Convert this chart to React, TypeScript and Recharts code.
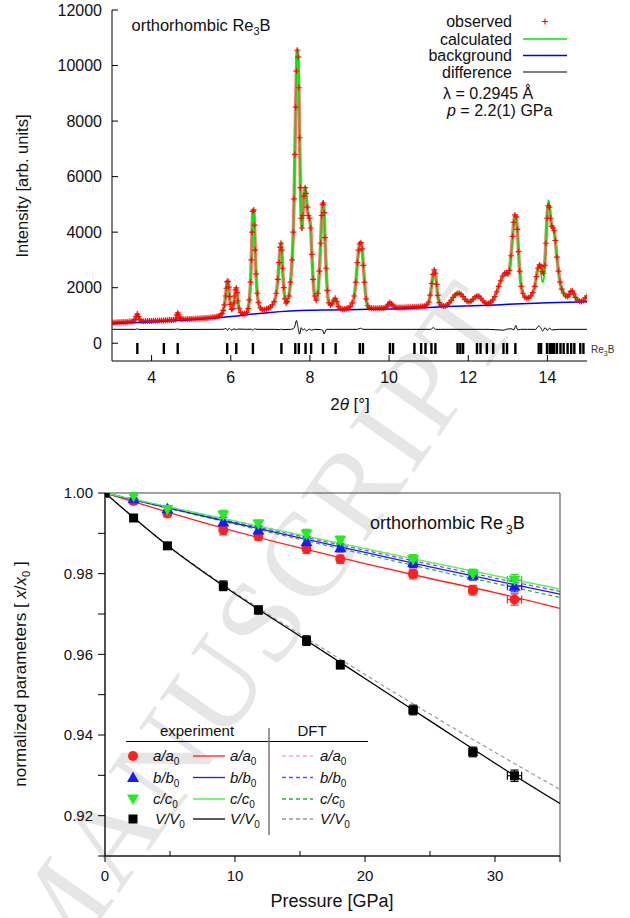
import React from 'react';
import { ComposedChart, Line, Scatter, XAxis, YAxis, ErrorBar, ReferenceArea, Legend } from 'recharts';

// top panel: powder pattern (2theta in degrees, intensity in arb. units)
const twoTheta = [
  3.0, 3.05, 3.1, 3.15, 3.2, 3.25, 3.3, 3.35, 3.4, 3.45, 3.5,
  3.55, 3.58, 3.61, 3.64, 3.67, 3.7, 3.75, 3.8,
  3.85, 3.9, 3.95, 4.0, 4.05, 4.1, 4.15, 4.2, 4.25, 4.3, 4.35, 4.4, 4.45, 4.5, 4.55, 4.6,
  4.62, 4.64, 4.66, 4.68, 4.7, 4.73, 4.76,
  4.8, 4.85, 4.9, 4.95, 5.0, 5.05, 5.1, 5.15, 5.2, 5.25, 5.3, 5.35, 5.4, 5.45, 5.5, 5.55, 5.6, 5.65, 5.7, 5.75,
  5.78, 5.81, 5.84, 5.87, 5.89, 5.91, 5.93, 5.95, 5.97, 5.99, 6.02, 6.05, 6.08, 6.1, 6.12, 6.14, 6.16, 6.18, 6.21, 6.25, 6.3, 6.35, 6.4, 6.44, 6.47,
  6.5, 6.52, 6.54, 6.56, 6.58, 6.6, 6.62, 6.64, 6.67, 6.7, 6.75, 6.8, 6.85, 6.9, 6.95,
  7.0, 7.05, 7.1, 7.15, 7.19, 7.22, 7.25, 7.27, 7.29, 7.31, 7.34, 7.37, 7.4, 7.43, 7.47, 7.51, 7.55, 7.58,
  7.6, 7.62, 7.64, 7.66, 7.68, 7.7, 7.72, 7.74, 7.76, 7.78, 7.8, 7.82, 7.85, 7.88, 7.9, 7.93, 7.96, 7.99, 8.02, 8.05, 8.08, 8.12, 8.16,
  8.2, 8.24, 8.27, 8.3, 8.32, 8.34, 8.36, 8.38, 8.41, 8.44, 8.48, 8.52, 8.56, 8.6, 8.64, 8.68, 8.72, 8.77, 8.82, 8.87, 8.92, 8.97,
  9.02, 9.07, 9.12, 9.16, 9.2, 9.23, 9.26, 9.29, 9.32, 9.35, 9.38, 9.42, 9.46, 9.5,
  9.55, 9.6, 9.65, 9.7, 9.75, 9.8, 9.85, 9.9, 9.95, 9.98, 10.02, 10.06, 10.1, 10.15, 10.2, 10.25, 10.3, 10.35, 10.4, 10.45, 10.5, 10.55, 10.6, 10.65, 10.7, 10.75, 10.8, 10.85, 10.9,
  10.95, 11.0, 11.04, 11.08, 11.11, 11.14, 11.17, 11.2, 11.23, 11.27, 11.32, 11.37, 11.42, 11.47,
  11.52, 11.57, 11.62, 11.67, 11.72, 11.77, 11.82, 11.87, 11.92, 11.97, 12.02, 12.07, 12.12, 12.17, 12.22, 12.27, 12.32, 12.37, 12.42, 12.47, 12.52, 12.57, 12.62,
  12.67, 12.72, 12.77, 12.82, 12.87, 12.92, 12.96, 13.0, 13.04, 13.08, 13.12, 13.15, 13.18, 13.21, 13.24, 13.27, 13.3, 13.34, 13.38, 13.43, 13.48, 13.53, 13.58,
  13.63, 13.68, 13.72, 13.76, 13.8, 13.84, 13.87, 13.9, 13.93, 13.96, 13.99, 14.02, 14.05, 14.08, 14.11, 14.14, 14.17, 14.2, 14.24, 14.28,
  14.32, 14.36, 14.41, 14.46, 14.51, 14.55, 14.59, 14.63, 14.67, 14.71, 14.76, 14.81, 14.86, 14.91, 14.96, 15.0,
];
const observed = [
  740, 745, 748, 752, 756, 760, 764, 768, 772, 778, 785,
  800, 850, 970, 1050, 960, 850, 800, 790,
  795, 798, 800, 803, 806, 809, 812, 815, 818, 822, 825, 828, 832, 836, 842, 855,
  900, 1020, 1090, 1030, 935, 885, 868,
  862, 865, 868, 871, 875, 878, 882, 886, 890, 895, 900, 905, 910, 917, 925, 935, 946, 962, 985, 1020,
  1070, 1180, 1380, 1700, 1980, 2210, 2230, 2020, 1680, 1400, 1220, 1250, 1450, 1700, 1920, 1990, 1820, 1520, 1260, 1110, 1060, 1070, 1110, 1250, 1560,
  2200, 3000, 4000, 4750, 4800, 4250, 3350, 2500, 1800, 1460, 1270, 1210, 1210, 1230, 1260,
  1300, 1380, 1500, 1800, 2300, 2900, 3450, 3600, 3350, 2700, 2000, 1600, 1450, 1500, 1700, 2200, 3000, 4000,
  5200, 6800, 8500, 9800, 10550, 10300, 9200, 7400, 5600, 4500, 4150, 4600, 5300, 5600, 5400, 4900, 4600, 4500, 4150, 3200, 2300, 1700, 1550,
  1800, 2600, 3600, 4600, 5000, 5050, 4700, 3800, 2700, 1900, 1450, 1380, 1420, 1550, 1620, 1500, 1320, 1250, 1220, 1230, 1255, 1280,
  1320, 1450, 1700, 2200, 2900, 3350, 3580, 3620, 3400, 2800, 2200, 1600, 1350, 1280,
  1260, 1258, 1258, 1260, 1262, 1265, 1270, 1280, 1330, 1400, 1470, 1410, 1350, 1305, 1290, 1285, 1285, 1288, 1290, 1293, 1296, 1300, 1304, 1308, 1312, 1317, 1322, 1330, 1345,
  1380, 1480, 1730, 2150, 2480, 2640, 2520, 2120, 1720, 1460, 1370, 1345, 1345, 1380,
  1450, 1550, 1650, 1740, 1790, 1800, 1760, 1680, 1580, 1510, 1490, 1510, 1580, 1660, 1700, 1690, 1620, 1530, 1460, 1430, 1440, 1480, 1560,
  1680, 1850, 2050, 2250, 2420, 2520, 2540, 2500, 2620, 3150, 3850, 4350, 4620, 4550, 4100, 3300, 2600, 2050, 1800, 1660, 1620, 1640, 1700,
  1820, 2050, 2400, 2700, 2820, 2760, 2580, 2520, 2800, 3600, 4500, 4950, 4900, 4500, 4220, 4150, 4050, 3700, 3100, 2600,
  2200, 1950, 1800, 1700, 1680, 1750, 1870, 1880, 1780, 1650, 1560, 1510, 1500, 1540, 1630, 1700,
];
const calculated = [
  730, 735, 738, 742, 746, 750, 754, 758, 762, 768, 775,
  790, 840, 960, 1030, 950, 840, 790, 780,
  785, 788, 790, 793, 796, 799, 802, 805, 808, 812, 815, 818, 822, 826, 832, 845,
  890, 1005, 1075, 1020, 925, 875, 858,
  852, 855, 858, 861, 865, 868, 872, 876, 880, 885, 890, 895, 900, 907, 915, 925, 936, 952, 975, 1010,
  1060, 1170, 1370, 1690, 1970, 2200, 2200, 2000, 1670, 1390, 1210, 1240, 1440, 1690, 1910, 1960, 1800, 1510, 1250, 1100, 1050, 1060, 1100, 1240, 1550,
  2190, 2990, 3990, 4780, 4820, 4240, 3340, 2490, 1790, 1450, 1260, 1200, 1200, 1220, 1250,
  1290, 1370, 1490, 1790, 2290, 2890, 3470, 3640, 3360, 2690, 1990, 1590, 1440, 1490, 1690, 2190, 2990, 3990,
  5250, 6900, 8600, 9900, 10620, 10450, 9300, 7450, 5600, 4450, 4050, 4550, 5300, 5650, 5450, 4950, 4600, 4420, 4100, 3180, 2290, 1690, 1540,
  1790, 2590, 3600, 4620, 5100, 5120, 4720, 3790, 2690, 1890, 1440, 1370, 1410, 1540, 1610, 1490, 1310, 1240, 1210, 1220, 1245, 1270,
  1310, 1440, 1690, 2190, 2890, 3340, 3560, 3580, 3380, 2790, 2190, 1590, 1340, 1270,
  1250, 1248, 1248, 1250, 1252, 1255, 1260, 1270, 1320, 1390, 1450, 1400, 1340, 1295, 1280, 1275, 1275, 1278, 1280, 1283, 1286, 1290, 1294, 1298, 1302, 1307, 1312, 1320, 1335,
  1370, 1470, 1710, 2100, 2400, 2520, 2450, 2090, 1700, 1450, 1360, 1335, 1335, 1370,
  1440, 1540, 1650, 1750, 1810, 1820, 1770, 1680, 1575, 1500, 1480, 1500, 1575, 1660, 1710, 1700, 1620, 1525, 1450, 1420, 1430, 1470, 1550,
  1670, 1840, 2040, 2240, 2400, 2480, 2440, 2450, 2600, 3100, 3800, 4300, 4480, 4450, 4050, 3280, 2580, 2040, 1790, 1650, 1610, 1630, 1690,
  1810, 2020, 2350, 2700, 2850, 2500, 2200, 2250, 2650, 3500, 4600, 5150, 5050, 4600, 4250, 4150, 4050, 3700, 3100, 2600,
  2190, 1940, 1790, 1690, 1670, 1740, 1860, 1870, 1770, 1640, 1550, 1500, 1490, 1530, 1620, 1690,
];
const bgTheta = [3, 3.5, 4, 4.5, 5, 5.5, 6, 6.5, 7, 7.5, 8, 8.5, 9, 9.5, 10, 10.5, 11, 11.5, 12, 12.5, 13, 13.5, 14, 14.5, 15];
const background = [700, 735, 768, 805, 845, 895, 960, 1040, 1110, 1160, 1190, 1200, 1210, 1220, 1230, 1255, 1290, 1320, 1345, 1370, 1400, 1430, 1460, 1480, 1495];
const diffTheta = [
  3.0, 3.6, 3.64, 3.68, 4.6, 4.66, 4.72, 5.8, 5.88, 5.92,
  5.96, 6.02, 6.08, 6.14, 6.2, 6.4, 6.52, 6.56, 6.6, 6.66,
  7.1, 7.24, 7.28, 7.32, 7.5, 7.58, 7.62, 7.66, 7.7, 7.74,
  7.78, 7.82, 7.86, 7.92, 7.98, 8.04, 8.12, 8.26, 8.32, 8.36,
  8.42, 8.6, 9.2, 9.28, 9.34, 9.5, 10.0, 11.05, 11.12, 11.18,
  11.3, 12.5, 12.9, 12.98, 13.08, 13.16, 13.2, 13.25, 13.32, 13.5,
  13.7, 13.78, 13.83, 13.88, 13.94, 14.0, 14.05, 14.12, 14.3, 15.0,
];
const difference = [
  500, 500, 520, 495, 500, 515, 495, 500, 530, 460,
  540, 470, 520, 490, 510, 500, 505, 470, 520, 500,
  500, 490, 510, 490, 500, 520, 620, 820, 560, 330,
  560, 470, 520, 440, 510, 470, 500, 490, 470, 340,
  500, 500, 500, 540, 500, 500, 500, 500, 560, 500,
  500, 500, 470, 510, 520, 490, 640, 480, 500, 500,
  500, 620, 560, 440, 560, 460, 540, 480, 500, 500,
];
const reflections = [
  3.64, 4.31, 4.66, 5.91, 6.14, 6.56, 7.28, 7.63, 7.72, 7.89, 8.03, 8.33, 8.65, 9.26, 9.34,
  10.02, 10.1, 10.64, 10.81, 10.92, 11.07, 11.17, 11.73, 11.8, 11.87, 12.22, 12.31, 12.47, 12.63,
  12.89, 12.98, 13.19, 13.78, 13.84, 13.99, 14.06, 14.12, 14.17, 14.24, 14.33, 14.41, 14.51, 14.6,
  14.68, 14.83, 14.91,
];
const thetaTicks = [4, 6, 8, 10, 12, 14];
const intensityTicks = [0, 2000, 4000, 6000, 8000, 10000, 12000];

// bottom panel: normalized lattice parameters vs pressure
const pressure = [0, 2.2, 4.8, 9.1, 11.8, 15.5, 18.1, 23.7, 28.3, 31.5];
const pressureErr = [0, 0.05, 0.05, 0.1, 0.1, 0.15, 0.2, 0.3, 0.3, 0.55];
const aRatio = [1.0, 0.998, 0.9949, 0.9908, 0.9893, 0.9862, 0.9836, 0.9799, 0.9759, 0.9736];
const bRatio = [1.0, 0.9986, 0.9961, 0.9928, 0.9908, 0.9879, 0.9864, 0.9827, 0.9796, 0.9769];
const cRatio = [1.0, 0.9992, 0.9959, 0.9945, 0.9923, 0.9898, 0.9883, 0.9835, 0.9799, 0.9784];
const vRatio = [1.0, 0.9938, 0.9869, 0.977, 0.971, 0.9634, 0.9574, 0.9462, 0.9358, 0.9299];
const ratioErr = [0, 0.0008, 0.0008, 0.0012, 0.001, 0.0012, 0.001, 0.0012, 0.0012, 0.0014];
const fitPressure = [0, 5, 10, 15, 20, 25, 30, 35];
const aFit = [1.0, 0.9951, 0.9905, 0.9864, 0.9825, 0.9788, 0.9753, 0.9714];
const bFit = [1.0, 0.9962, 0.9925, 0.9889, 0.9853, 0.9817, 0.9783, 0.9749];
const cFit = [1.0, 0.9965, 0.993, 0.9896, 0.9862, 0.9828, 0.9795, 0.9762];
const vFit = [1.0, 0.9865, 0.975, 0.9645, 0.954, 0.9435, 0.933, 0.923];
const aDft = [1.0, 0.9965, 0.9931, 0.9897, 0.9863, 0.9829, 0.9795, 0.9761];
const bDft = [1.0, 0.9964, 0.9928, 0.9893, 0.9858, 0.9823, 0.9789, 0.9756];
const cDft = [1.0, 0.9961, 0.9923, 0.9885, 0.9848, 0.9811, 0.9776, 0.9741];
const vDft = [1.0, 0.9866, 0.9753, 0.965, 0.955, 0.9452, 0.9357, 0.9265];
const pressureTicks = [0, 5, 10, 15, 20, 25, 30, 35];
const ratioTicks = [0.91, 0.92, 0.93, 0.94, 0.95, 0.96, 0.97, 0.98, 0.99, 1.0];

const FONT = 'Liberation Sans, Arial, Helvetica, sans-serif';

const obsData = twoTheta.map((t, k) => ({ t, i: observed[k] }));
const calcData = twoTheta.map((t, k) => ({ t, i: calculated[k] }));
const bgData = bgTheta.map((t, k) => ({ t, i: background[k] }));
const diffData = diffTheta.map((t, k) => ({ t, i: difference[k] }));
const reflData = reflections.map((t) => ({ t, i: -190 }));

const points = (vals: number[]) => pressure.map((p, k) => ({ p, v: vals[k], ep: pressureErr[k], ev: ratioErr[k] }));
const fit = (vals: number[]) => fitPressure.map((p, k) => ({ p, v: vals[k] }));

// inward ticks for the gnuplot-style frame
const ThetaTick = (props: any) => {
  const { x, y, payload } = props;
  const axisY = y - 11;
  return (
    <g>
      <line x1={x} x2={x} y1={axisY} y2={axisY - 6} stroke="#000" />
      <text x={x} y={y} dy="0.71em" textAnchor="middle" fontSize={16} fill="#111">{payload.value}</text>
    </g>
  );
};
const ThetaTopTick = (props: any) => (
  <line x1={props.x} x2={props.x} y1={props.y} y2={props.y + 6} stroke="#000" />
);
const IntensityTick = (props: any) => {
  const { x, y, payload } = props;
  const axisX = x + 10;
  return (
    <g>
      <line x1={axisX} x2={axisX + 6} y1={y} y2={y} stroke="#000" />
      <text x={x} y={y} dy="0.35em" textAnchor="end" fontSize={16} fill="#111">{payload.value}</text>
    </g>
  );
};
const IntensityRightTick = (props: any) => (
  <line x1={props.x} x2={props.x - 6} y1={props.y} y2={props.y} stroke="#000" />
);

const PressureTick = (props: any) => {
  const { x, y, payload } = props;
  const v = payload.value;
  const axisY = y - 14;
  const major = v % 10 === 0 || v === 35;
  return (
    <g>
      <line x1={x} x2={x} y1={axisY} y2={major ? axisY + 6 : axisY - 5} stroke="#000" />
      {v % 10 === 0 && v < 35 ? (
        <text x={x} y={y} dy="0.71em" textAnchor="middle" fontSize={15} fill="#111">{v}</text>
      ) : null}
    </g>
  );
};
const RatioTick = (props: any) => {
  const { x, y, payload } = props;
  const v = payload.value;
  const axisX = x + 12;
  const labelled = Math.round(v * 100) % 2 === 0;
  return (
    <g>
      <line x1={axisX} x2={axisX - 7} y1={y} y2={y} stroke="#000" />
      {labelled ? (
        <text x={x} y={y} dy="0.35em" textAnchor="end" fontSize={15} fill="#111">{v.toFixed(2)}</text>
      ) : null}
    </g>
  );
};

const Cross = (p: any) => (
  <path d={`M${p.cx - 3},${p.cy}h6M${p.cx},${p.cy - 3}v6`} stroke="rgba(255,0,0,0.9)" strokeWidth={1.2} />
);
const ReflBar = (p: any) => <rect x={p.cx - 1.2} y={p.cy - 5.5} width={2.4} height={11} fill="#000" />;

const Circle = (p: any) => <circle cx={p.cx} cy={p.cy} r={5} fill="#ff2020" />;
const TriUp = (p: any) => <path d={`M${p.cx},${p.cy - 6}L${p.cx + 6},${p.cy + 4.5}L${p.cx - 6},${p.cy + 4.5}Z`} fill="#1a1aff" />;
const TriDown = (p: any) => <path d={`M${p.cx},${p.cy + 6}L${p.cx + 6},${p.cy - 4.5}L${p.cx - 6},${p.cy - 4.5}Z`} fill="#22ee22" />;
const Square = (p: any) => <rect x={p.cx - 4.5} y={p.cy - 4.5} width={9} height={9} fill="#000" />;

const thetaTitle = () => (
  <text x={350} y={410} textAnchor="middle" fontSize={17} fill="#111">
    2<tspan fontStyle="italic">θ</tspan> [°]
  </text>
);
const intensityTitle = () => (
  <text transform="translate(28,186) rotate(-90)" textAnchor="middle" fontSize={16.5} fill="#111">
    Intensity [arb. units]
  </text>
);
const pressureTitle = () => (
  <text x={332} y={907} textAnchor="middle" fontSize={18} fill="#111">Pressure [GPa]</text>
);
const ratioTitle = () => (
  <text transform="translate(26,674) rotate(-90)" textAnchor="middle" fontSize={17} fill="#111">
    normalized parameters [ <tspan fontStyle="italic">x</tspan>/<tspan fontStyle="italic">x</tspan>
    <tspan dy={4} fontSize={11}>0</tspan>
    <tspan dy={-4}> ]</tspan>
  </text>
);

const TopLegend = () => (
  <svg width={630} height={918} style={{ position: 'absolute', left: 0, top: 0 }} fontFamily={FONT}>
    <text x={131.5} y={31} fontSize={16.5} fill="#111">
      orthorhombic Re<tspan dy={4} fontSize={11}>3</tspan><tspan dy={-4}>B</tspan>
    </text>
    <g fontSize={16} fill="#111" textAnchor="end">
      <text x={512} y={27}>observed</text>
      <text x={512} y={44.5}>calculated</text>
      <text x={512} y={61}>background</text>
      <text x={512} y={77.5}>difference</text>
    </g>
    <path d="M542,21.5h6M545,18.5v6" stroke="#f00" strokeWidth={1.1} />
    <line x1={523} x2={567} y1={39} y2={39} stroke="#00e600" strokeWidth={1.5} />
    <line x1={523} x2={567} y1={55.5} y2={55.5} stroke="#0000ff" strokeWidth={1.5} />
    <line x1={523} x2={567} y1={72} y2={72} stroke="#000" strokeWidth={1.2} />
    <text x={443} y={99} fontSize={16} fill="#111">λ = 0.2945 Å</text>
    <text x={447} y={116} fontSize={16} fill="#111">
      <tspan fontStyle="italic">p</tspan> = 2.2(1) GPa
    </text>
    <text x={591} y={353} fontSize={10} fill="#333">
      Re<tspan dy={3} fontSize={7}>3</tspan><tspan dy={-3}>B</tspan>
    </text>
  </svg>
);

const legendRows = [
  { sym: 'a', color: '#ff2020', dft: '#ffaaaa', y: 756 },
  { sym: 'b', color: '#1a1aff', dft: '#9933ff', y: 777.5 },
  { sym: 'c', color: '#33ee33', dft: '#33aa33', y: 799 },
  { sym: 'V', color: '#000000', dft: '#999999', y: 819 },
];
const RowLabel = ({ x, y, sym }: { x: number; y: number; sym: string }) => (
  <text x={x} y={y + 5} fontSize={15} fill="#111">
    <tspan fontStyle="italic">{sym}/{sym}</tspan>
    <tspan dy={4} fontSize={10}>0</tspan>
  </text>
);

const BottomLegend = () => (
  <svg width={630} height={918} style={{ position: 'absolute', left: 0, top: 0 }} fontFamily={FONT}>
    <text x={370} y={529} fontSize={18} fill="#111">
      orthorhombic Re<tspan dx={3} dy={5} fontSize={12}>3</tspan><tspan dy={-5}>B</tspan>
    </text>
    <text x={197} y={735.5} fontSize={15} textAnchor="middle" fill="#111">experiment</text>
    <text x={312} y={735.5} fontSize={15} textAnchor="middle" fill="#111">DFT</text>
    <line x1={126} x2={368} y1={741.5} y2={741.5} stroke="#000" strokeWidth={1.2} />
    <line x1={269} x2={269} y1={728} y2={835} stroke="#777" strokeWidth={1.5} />
    {legendRows.map((r) => {
      const m = { cx: 133, cy: r.y };
      return (
        <g key={r.sym}>
          {r.sym === 'a' && <Circle {...m} />}
          {r.sym === 'b' && <TriUp {...m} />}
          {r.sym === 'c' && <TriDown {...m} />}
          {r.sym === 'V' && <Square {...m} />}
          <RowLabel x={r.sym === 'V' ? 155 : 153} y={r.y} sym={r.sym} />
          <line x1={193} x2={225} y1={r.y} y2={r.y} stroke={r.color} strokeWidth={1.3} />
          <RowLabel x={230} y={r.y} sym={r.sym} />
          <line x1={282} x2={313} y1={r.y} y2={r.y} stroke={r.dft} strokeWidth={1.3} strokeDasharray="4 3" />
          <RowLabel x={320} y={r.y} sym={r.sym} />
        </g>
      );
    })}
  </svg>
);

const Watermark = () => (
  <svg width={630} height={918} style={{ position: 'absolute', left: 0, top: 0 }}>
    <text
      transform="translate(55,985) rotate(-55)"
      fontFamily="Liberation Serif, Times New Roman, serif"
      fontSize={120}
      letterSpacing={4}
      fill="#e6e6e6"
    >
      MANUSCRIPT
    </text>
  </svg>
);

const layer: React.CSSProperties = { position: 'absolute', left: 0, top: 0 };

export default function App() {
  return (
    <div style={{ position: 'absolute', left: 0, top: 0, width: 630, height: 918, background: '#fff', fontFamily: FONT, overflow: 'hidden' }}>
      <Watermark />
      <div style={layer}>
        <ComposedChart width={630} height={918} margin={{ top: 10, right: 43, bottom: 517, left: 52 }}>
          <XAxis
            xAxisId="b" dataKey="t" type="number" domain={[3, 15]} ticks={thetaTicks} allowDataOverflow interval={0}
            height={40} tickSize={0} tickMargin={11} tickLine={false} axisLine={{ stroke: '#000' }}
            tick={ThetaTick} label={thetaTitle}
          />
          <XAxis
            xAxisId="t" orientation="top" type="number" domain={[3, 15]} ticks={thetaTicks} allowDataOverflow interval={0}
            height={0} tickSize={0} tickMargin={0} tickLine={false} axisLine={{ stroke: '#000' }} tick={ThetaTopTick}
          />
          <YAxis
            yAxisId="l" dataKey="i" type="number" domain={[-640, 12000]} ticks={intensityTicks} allowDataOverflow interval={0}
            width={60} tickSize={0} tickMargin={10} tickLine={false} axisLine={{ stroke: '#000' }}
            tick={IntensityTick} label={intensityTitle}
          />
          <YAxis
            yAxisId="r" orientation="right" type="number" domain={[-640, 12000]} ticks={intensityTicks} allowDataOverflow interval={0}
            width={0} tickSize={0} tickMargin={0} tickLine={false} axisLine={{ stroke: '#000' }} tick={IntensityRightTick}
          />
          <Line xAxisId="b" yAxisId="l" data={obsData} dataKey="i" type="monotone" stroke="rgba(255,0,0,0.55)" strokeWidth={3.5} dot={false} isAnimationActive={false} />
          <Scatter xAxisId="b" yAxisId="l" data={obsData} shape={Cross} isAnimationActive={false} />
          <Line xAxisId="b" yAxisId="l" data={calcData} dataKey="i" type="monotone" stroke="#00e600" strokeWidth={1.5} dot={false} isAnimationActive={false} />
          <Line xAxisId="b" yAxisId="l" data={bgData} dataKey="i" type="monotone" stroke="#0000ff" strokeWidth={1.5} dot={false} isAnimationActive={false} />
          <Line xAxisId="b" yAxisId="l" data={diffData} dataKey="i" type="monotone" stroke="#000" strokeWidth={1} dot={false} isAnimationActive={false} />
          <Scatter xAxisId="b" yAxisId="l" data={reflData} shape={ReflBar} isAnimationActive={false} />
          <Legend layout="vertical" align="center" verticalAlign="middle" content={TopLegend}
            wrapperStyle={{ left: 0, top: 0, width: 630, height: 918, pointerEvents: 'none' }} />
        </ComposedChart>
      </div>
      <div style={layer}>
        <ComposedChart width={630} height={918} margin={{ top: 493, right: 70, bottom: 22, left: 45 }}>
          <XAxis
            dataKey="p" type="number" domain={[0, 35]} ticks={pressureTicks} allowDataOverflow interval={0}
            height={40} tickSize={0} tickMargin={14} tickLine={false} axisLine={{ stroke: '#000' }}
            tick={PressureTick} label={pressureTitle}
          />
          <YAxis
            dataKey="v" type="number" domain={[0.91, 1.0]} ticks={ratioTicks} allowDataOverflow interval={0}
            width={60} tickSize={0} tickMargin={12} tickLine={false} axisLine={{ stroke: '#000' }}
            tick={RatioTick} label={ratioTitle}
          />
          <ReferenceArea x1={0} x2={35} y1={0.91} y2={1.0} fill="#fff" fillOpacity={0} stroke="#444" strokeWidth={1} />
          <Line data={fit(aDft)} dataKey="v" type="monotone" stroke="#ffaaaa" strokeWidth={1.2} strokeDasharray="4 3" dot={false} isAnimationActive={false} />
          <Line data={fit(bDft)} dataKey="v" type="monotone" stroke="#9933ff" strokeWidth={1.2} strokeDasharray="4 3" dot={false} isAnimationActive={false} />
          <Line data={fit(cDft)} dataKey="v" type="monotone" stroke="#33aa33" strokeWidth={1.2} strokeDasharray="4 3" dot={false} isAnimationActive={false} />
          <Line data={fit(vDft)} dataKey="v" type="monotone" stroke="#999" strokeWidth={1.2} strokeDasharray="4 3" dot={false} isAnimationActive={false} />
          <Line data={fit(aFit)} dataKey="v" type="monotone" stroke="#ff2020" strokeWidth={1.3} dot={false} isAnimationActive={false} />
          <Line data={fit(bFit)} dataKey="v" type="monotone" stroke="#1a1aff" strokeWidth={1.3} dot={false} isAnimationActive={false} />
          <Line data={fit(cFit)} dataKey="v" type="monotone" stroke="#44ff44" strokeWidth={1.3} dot={false} isAnimationActive={false} />
          <Line data={fit(vFit)} dataKey="v" type="monotone" stroke="#000" strokeWidth={1.3} dot={false} isAnimationActive={false} />
          <Scatter data={points(aRatio)} shape={Circle} isAnimationActive={false}>
            <ErrorBar dataKey="ev" direction="y" width={4} stroke="#ff2020" strokeWidth={1.2} />
            <ErrorBar dataKey="ep" direction="x" width={4} stroke="#ff2020" strokeWidth={1.2} />
          </Scatter>
          <Scatter data={points(bRatio)} shape={TriUp} isAnimationActive={false}>
            <ErrorBar dataKey="ev" direction="y" width={4} stroke="#1a1aff" strokeWidth={1.2} />
            <ErrorBar dataKey="ep" direction="x" width={4} stroke="#1a1aff" strokeWidth={1.2} />
          </Scatter>
          <Scatter data={points(cRatio)} shape={TriDown} isAnimationActive={false}>
            <ErrorBar dataKey="ev" direction="y" width={4} stroke="#22dd22" strokeWidth={1.2} />
            <ErrorBar dataKey="ep" direction="x" width={4} stroke="#22dd22" strokeWidth={1.2} />
          </Scatter>
          <Scatter data={points(vRatio)} shape={Square} isAnimationActive={false}>
            <ErrorBar dataKey="ev" direction="y" width={4} stroke="#000" strokeWidth={1.2} />
            <ErrorBar dataKey="ep" direction="x" width={4} stroke="#000" strokeWidth={1.2} />
          </Scatter>
          <Legend layout="vertical" align="center" verticalAlign="middle" content={BottomLegend}
            wrapperStyle={{ left: 0, top: 0, width: 630, height: 918, pointerEvents: 'none' }} />
        </ComposedChart>
      </div>
    </div>
  );
}
